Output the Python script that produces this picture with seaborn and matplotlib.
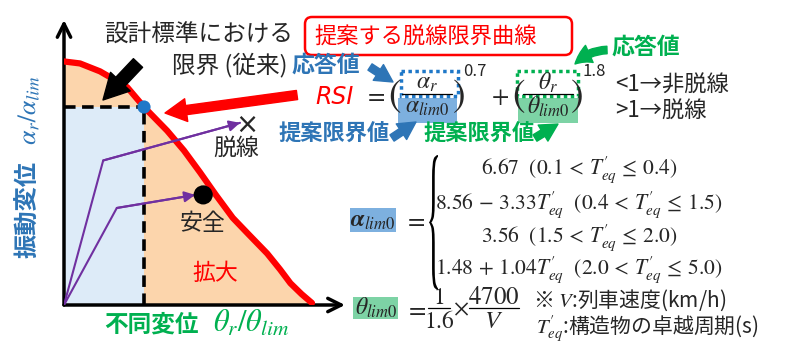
import numpy as np
import matplotlib
matplotlib.use('Agg')
import matplotlib.pyplot as plt
import seaborn as sns
import pandas as pd
from matplotlib.patches import FancyBboxPatch, Rectangle, PathPatch
from matplotlib.textpath import TextPath
from matplotlib.font_manager import FontProperties
from matplotlib.transforms import Affine2D

# 限界曲線 (従来の限界点を 1,1 とした正規化座標)
curve_x = [0.0, 0.2, 0.45, 0.6, 0.79, 1.0, 1.29, 1.5, 1.7, 1.9, 2.11, 2.3, 2.54, 2.7, 2.83, 2.97, 3.1]
curve_y = [1.23, 1.22, 1.18, 1.145, 1.10, 1.0, 0.88, 0.78, 0.67, 0.555, 0.44, 0.36, 0.26, 0.18, 0.11, 0.055, 0.01]

# 従来の限界点
lim_x, lim_y = 1.0, 1.0

# 応答の経路 (脱線 / 安全)
path_derail_x = [0.0, 0.49, 2.2]
path_derail_y = [0.0, 0.73, 0.92]
path_safe_x = [0.0, 0.66, 1.64]
path_safe_y = [0.0, 0.49, 0.556]
derail_pt = (2.29, 0.91)
safe_pt = (1.74, 0.556)

case_lines = [
    r'$6.67\ \ (0.1\,<\,T_{eq}^{\prime}\,\leq\,0.4)$',
    r'$8.56\,-\,3.33T_{eq}^{\prime}\ \ (0.4\,<\,T_{eq}^{\prime}\,\leq\,1.5)$',
    r'$3.56\ \ (1.5\,<\,T_{eq}^{\prime}\,\leq\,2.0)$',
    r'$1.48\,+\,1.04T_{eq}^{\prime}\ \ (2.0\,<\,T_{eq}^{\prime}\,\leq\,5.0)$',
]

RED = '#FF0000'
ORANGE = '#FCD5AC'
LIGHTBLUE = '#DDEBF8'
BLUE = '#2E75B6'
BLUEFILL = '#7DB0DF'
GREEN = '#00B050'
GREENFILL = '#7DD3A5'
PURPLE = '#7030A0'

sns.set_style('white')
plt.rcParams['font.family'] = ['Noto Sans CJK JP', 'DejaVu Sans']
plt.rcParams['mathtext.fontset'] = 'stix'

W, H = 800, 356
fig = plt.figure(figsize=(8, 3.56), dpi=100)

# ---- 左のグラフ ----
ax = fig.add_axes([64 / W, 1 - 305 / H, 281 / W, 285 / H])
ax.set_xlim(0, 281 / 80)
ax.set_ylim(0, 285 / 198)
ax.axis('off')

ax.fill_between(curve_x, curve_y, color=ORANGE, lw=0, zorder=1)
ax.fill_between([0, lim_x], [lim_y, lim_y], color=LIGHTBLUE, lw=0, zorder=2)
ax.plot([0, lim_x], [lim_y, lim_y], color='k', lw=2.6, ls=(0, (3.2, 1.8)), zorder=3)
ax.plot([lim_x, lim_x], [0, lim_y], color='k', lw=2.6, ls=(0, (3.2, 1.8)), zorder=3)

df_curve = pd.DataFrame({'x': curve_x, 'y': curve_y})
sns.lineplot(data=df_curve, x='x', y='y', color=RED, lw=4.5, sort=False,
             ax=ax, zorder=5)

for px, py in [(path_derail_x, path_derail_y), (path_safe_x, path_safe_y)]:
    sns.lineplot(x=px, y=py, color=PURPLE, lw=1.5, sort=False, estimator=None,
                 ax=ax, zorder=6)
    ax.annotate('', xy=(px[-1], py[-1]), xytext=(px[-2], py[-2]),
                arrowprops=dict(arrowstyle='-|>', color=PURPLE, lw=1.5,
                                mutation_scale=16, shrinkA=0, shrinkB=0),
                zorder=6)

sns.scatterplot(x=[lim_x], y=[lim_y], color='#1F78C8', s=90, ax=ax, zorder=7,
                edgecolor='none')
sns.scatterplot(x=[safe_pt[0]], y=[safe_pt[1]], color='k', s=190, ax=ax,
                zorder=7, edgecolor='none')
ax.text(derail_pt[0], derail_pt[1], '×', fontsize=20, ha='center', va='center',
        family='DejaVu Sans', zorder=7)

# 軸の矢印
for end in [(1, 0), (0, 1)]:
    ax.annotate('', xy=end, xytext=(0, 0), xycoords='axes fraction',
                arrowprops=dict(arrowstyle='->', lw=2.5, color='k',
                                mutation_scale=24, shrinkA=0, shrinkB=0))

# ---- 注記 (ピクセル座標) ----
ov = fig.add_axes([0, 0, 1, 1], zorder=10)
ov.set_xlim(0, W)
ov.set_ylim(H, 0)
ov.axis('off')


def txt(x, y, s, **kw):
    kw.setdefault('va', 'center')
    kw.setdefault('ha', 'left')
    ov.text(x, y, s, **kw)


def arrow(p0, p1, color, scale=18, width=0.3, rad=0.0):
    ov.annotate('', xy=p1, xytext=p0,
                arrowprops=dict(arrowstyle=f'simple,head_length=0.7,head_width=0.75,tail_width={width}',
                                color=color, mutation_scale=scale, shrinkA=0, shrinkB=0,
                                connectionstyle=f'arc3,rad={rad}'))


def frac(xc, y_line, num, den, half, size):
    txt(xc, y_line - 11, num, fontsize=size, ha='center')
    txt(xc, y_line + 13, den, fontsize=size, ha='center')
    ov.plot([xc - half, xc + half], [y_line, y_line], color='k', lw=0.9)


def paren(x, y, s):
    txt(x, y, s, fontsize=27, ha='center', family='STIXGeneral')


txt(28, 209, '振動変位', rotation=90, rotation_mode='anchor', ha='center',
    color=BLUE, fontsize=17.5, fontweight='bold')
# 縦向きの数式ラベル (パスにして90度回転)
tp_lab = TextPath((0, 0), r'$\alpha_r/\alpha_{lim}$', size=26)
e = tp_lab.get_extents()
X0 = 28 + (e.y0 + e.y1) / 2
Y0 = 111 + (e.x0 + e.x1) / 2
rot = Affine2D(np.array([[0.0, -1.0, X0], [-1.0, 0.0, Y0], [0.0, 0.0, 1.0]]))
ov.add_patch(PathPatch(rot.transform_path(tp_lab), fc=BLUE, ec='none'))

txt(104, 325, '不同変位', color=GREEN, fontsize=17, fontweight='bold')
txt(213, 323, r'$\theta_r/\theta_{lim}$', color=GREEN, fontsize=22)

txt(213, 148, '脱線', fontsize=16.5)
txt(180, 224, '安全', fontsize=16.5)
txt(192, 273, '拡大', fontsize=16.5, color=RED)

txt(104, 35, '設計標準における', fontsize=17)
txt(172, 65, '限界 (従来)', fontsize=17)
txt(292, 65, '応答値', fontsize=16.5, color=BLUE, fontweight='bold')
arrow((138, 63), (103, 100), 'k', scale=26, width=0.35)
arrow((297, 95), (165, 113), RED, scale=22, width=0.3)

ov.add_patch(FancyBboxPatch((305, 17), 267, 38, boxstyle='round,pad=0,rounding_size=7',
                            ec=RED, fc='white', lw=1.8))
txt(314, 37, '提案する脱線限界曲線', fontsize=16, color=RED)
txt(612, 47, '応答値', fontsize=16.5, color=GREEN, fontweight='bold')
arrow((607, 50), (575, 64), GREEN, rad=0.2)
arrow((370, 67), (393, 82), BLUE)

# RSI の式
txt(315, 97, 'RSI', fontsize=17, color=RED, style='italic', family='DejaVu Sans')
txt(364, 95, r'$=$', fontsize=18)
ov.add_patch(Rectangle((398, 98), 59, 25, fc=BLUEFILL, ec='none'))
ov.add_patch(Rectangle((401, 71), 57, 25, fill=False, ec='#1F78C8', ls=(0, (1, 1)), lw=2.5))
paren(394, 97, '(')
paren(459, 97, ')')
frac(427, 94, r'$\alpha_r$', r'$\alpha_{lim0}$', 25, 17)
txt(463, 72, '0.7', fontsize=12)
txt(491, 97, r'$+$', fontsize=18)
ov.add_patch(Rectangle((518, 98), 60, 25, fc=GREENFILL, ec='none'))
ov.add_patch(Rectangle((517, 71), 61, 25, fill=False, ec=GREEN, ls=(0, (1, 1)), lw=2.5))
paren(518, 97, '(')
paren(577, 97, ')')
frac(548, 94, r'$\theta_r$', r'$\theta_{lim0}$', 25, 17)
txt(582, 72, '1.8', fontsize=12)

txt(615, 85, '<1→非脱線', fontsize=16)
txt(615, 111, '>1→脱線', fontsize=16)

txt(278, 133, '提案限界値', fontsize=16, color=BLUE, fontweight='bold')
arrow((392, 138), (416, 122), BLUE)
txt(423, 133, '提案限界値', fontsize=16, color=GREEN, fontweight='bold')
arrow((535, 138), (558, 124), GREEN)

# α_lim0 の式
ov.add_patch(Rectangle((350, 208), 46, 24, fc=BLUEFILL, ec='none'))
txt(373, 220, r'$\boldsymbol{\alpha}_{lim0}$', fontsize=17, ha='center')
txt(404, 220, r'$=$', fontsize=18)
tp = TextPath((0, 0), '{', size=10, prop=FontProperties(family='STIXGeneral'))
ext = tp.get_extents()
bx0, bx1, by0, by1 = 429, 438, 155, 290
tr = Affine2D().translate(-ext.x0, -ext.y0).scale((bx1 - bx0) / ext.width,
                                                  -(by1 - by0) / ext.height).translate(bx0, by1)
ov.add_patch(PathPatch(tr.transform_path(tp), fc='k', ec='none'))
for y, s in zip([170, 205, 238, 270], case_lines):
    txt(579, y, s, fontsize=15.5, ha='center')

# θ_lim0 の式
ov.add_patch(Rectangle((353, 297), 45, 22, fc=GREENFILL, ec='none'))
txt(376, 308, r'$\theta_{lim0}$', fontsize=17, ha='center')
txt(405, 309, r'$=$', fontsize=18)
frac(439, 308, r'$1$', r'$1.6$', 11, 17)
txt(461, 309, r'$\times$', fontsize=17, ha='center')
frac(494, 308, r'$4700$', r'$V$', 25, 18)
txt(533, 300, '※ $V$:列車速度(km/h)', fontsize=15)
txt(536, 329, r'$T_{eq}^{\prime}$:構造物の卓越周期(s)', fontsize=15)

fig.savefig('out.png', dpi=100, facecolor='white')
